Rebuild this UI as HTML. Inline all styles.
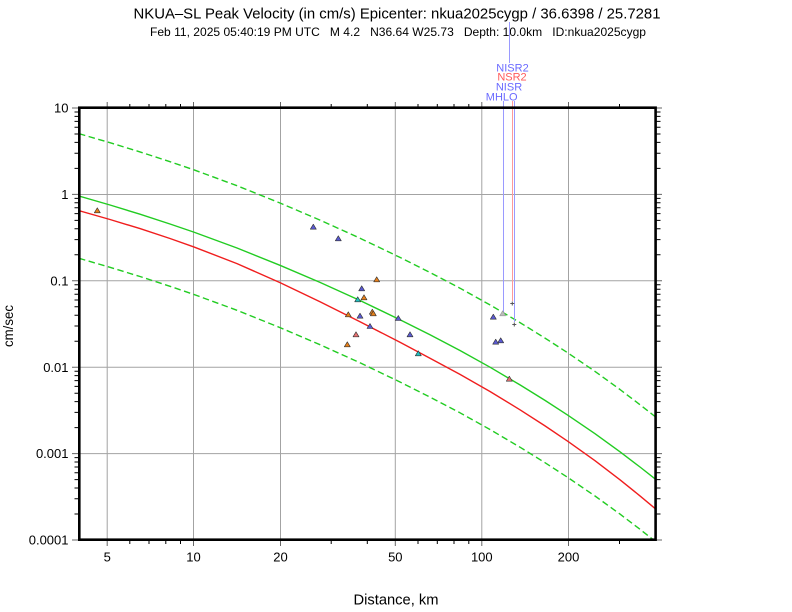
<!DOCTYPE html>
<html><head><meta charset="utf-8"><style>
html,body{margin:0;padding:0;background:#fff;}
svg{display:block;}
text{font-family:"Liberation Sans",Arial,Helvetica,sans-serif;}
</style></head><body>
<svg width="792" height="612" viewBox="0 0 792 612" xmlns="http://www.w3.org/2000/svg">
<rect x="0" y="0" width="792" height="612" fill="#fff"/>
<defs><clipPath id="pc"><rect x="79.3" y="107.7" width="576.3" height="432"/></clipPath></defs>

<!-- titles -->
<text x="397" y="18.5" font-size="14.5" text-anchor="middle" textLength="527" lengthAdjust="spacingAndGlyphs">NKUA–SL Peak Velocity (in cm/s) Epicenter: nkua2025cygp / 36.6398 / 25.7281</text>
<text x="398" y="36" font-size="12" text-anchor="middle" textLength="496" lengthAdjust="spacingAndGlyphs" xml:space="preserve">Feb 11, 2025 05:40:19 PM UTC   M 4.2   N36.64 W25.73   Depth: 10.0km   ID:nkua2025cygp</text>

<!-- grid -->
<g stroke="#a3a3a3" stroke-width="1" fill="none">
<path d="M79 194.5H656M79 280.8H656M79 367.2H656M79 453.6H656"/>
<path d="M107.2 108V540M193.5 108V540M280.5 108V540M395.3 108V540M481.8 108V540M568.5 108V540"/>
</g>

<!-- ticks -->
<g stroke="#000" stroke-width="1" fill="none">
<path d="M74.5 168.4H79M74.5 153.2H79M74.5 142.4H79M74.5 134H79M74.5 127.2H79M74.5 121.4H79M74.5 116.4H79M74.5 112H79
M74.5 254.8H79M74.5 239.6H79M74.5 228.8H79M74.5 220.4H79M74.5 213.6H79M74.5 207.8H79M74.5 202.8H79M74.5 198.4H79
M74.5 341.2H79M74.5 326H79M74.5 315.2H79M74.5 306.8H79M74.5 300H79M74.5 294.2H79M74.5 289.2H79M74.5 284.8H79
M74.5 427.6H79M74.5 412.4H79M74.5 401.6H79M74.5 393.2H79M74.5 386.4H79M74.5 380.6H79M74.5 375.6H79M74.5 371.2H79
M74.5 514H79M74.5 498.8H79M74.5 488H79M74.5 479.6H79M74.5 472.8H79M74.5 467H79M74.5 462H79M74.5 457.6H79"/>
<path d="M656 168.4H660.5M656 153.2H660.5M656 142.4H660.5M656 134H660.5M656 127.2H660.5M656 121.4H660.5M656 116.4H660.5M656 112H660.5
M656 254.8H660.5M656 239.6H660.5M656 228.8H660.5M656 220.4H660.5M656 213.6H660.5M656 207.8H660.5M656 202.8H660.5M656 198.4H660.5
M656 341.2H660.5M656 326H660.5M656 315.2H660.5M656 306.8H660.5M656 300H660.5M656 294.2H660.5M656 289.2H660.5M656 284.8H660.5
M656 427.6H660.5M656 412.4H660.5M656 401.6H660.5M656 393.2H660.5M656 386.4H660.5M656 380.6H660.5M656 375.6H660.5M656 371.2H660.5
M656 514H660.5M656 498.8H660.5M656 488H660.5M656 479.6H660.5M656 472.8H660.5M656 467H660.5M656 462H660.5M656 457.6H660.5"/>
<path d="M129.8 540V544M149 540V544M165.8 540V544M180.5 540V544M331.2 540V544M367.3 540V544M418 540V544M437.3 540V544M454 540V544M468.8 540V544M619.5 540V544
M129.8 108V104M149 108V104M165.8 108V104M180.5 108V104M331.2 108V104M367.3 108V104M418 108V104M437.3 108V104M454 108V104M468.8 108V104M619.5 108V104"/>
</g>
<g stroke="#666" stroke-width="1" fill="none">
<path d="M72 108H79M72 194.4H79M72 280.8H79M72 367.2H79M72 453.6H79M72 540H79"/>
<path d="M656 108H662M656 194.4H662M656 280.8H662M656 367.2H662M656 453.6H662M656 540H662"/>
<path d="M107.2 540V546M193.5 540V546M280.5 540V546M395.3 540V546M481.8 540V546M568.5 540V546"/>
<path d="M107.2 108V102M193.5 108V102M280.5 108V102M395.3 108V102M481.8 108V102M568.5 108V102"/>
</g>

<!-- curves -->
<g clip-path="url(#pc)" fill="none" stroke-width="1.4" stroke-linejoin="round">
<polyline stroke="#22cc22" stroke-dasharray="6.5 3.5" points="79,133.7 110,142.7 140,151.9 170,161.7 193.5,169.7 237,185.7 280,203 320,220.1 360,238.2 400,257.4 430,272.5 460,288.2 490,304.9 520,322.6 545,338.1 568,353 595,371.4 620,389.5 640,404.7 655,416.5"/>
<polyline stroke="#22cc22" stroke-dasharray="6.5 3.5" points="79,258.3 110,267.3 140,276.5 170,286.3 193.5,294.3 237,310.3 280,327.6 320,344.7 360,362.8 400,382 430,397.1 460,412.8 490,429.5 520,447.2 545,462.7 568,477.6 595,496 620,514.1 640,529.3 655,541.1"/>
<polyline stroke="#22cc22" points="79,196 110,205 140,214.2 170,224 193.5,232 237,248 280,265.3 320,282.4 360,300.5 400,319.7 430,334.8 460,350.5 490,367.2 520,384.9 545,400.4 568,415.3 595,433.7 620,451.8 640,467 655,478.8"/>
<polyline stroke="#f01e1e" points="79,210.7 110,219.5 140,228.6 170,238.5 193.5,246.8 237,263.6 280,282.6 320,301.8 360,321.7 400,342.3 430,358.2 460,374.4 490,391.5 520,409.8 545,425.9 568,441.4 595,460.7 620,479.8 640,495.9 655,508.4"/>
</g>

<!-- station label lines -->
<g fill="none" stroke-width="1">
<path d="M509.5 22V63" stroke="#9a9aff"/>
<path d="M503.5 101V312" stroke="#9a9aff"/>
<path d="M514.5 101V322" stroke="#9a9aff"/>
<path d="M512.5 101V301" stroke="#ff9a9a"/>
</g>
<g font-size="11" text-anchor="middle">
<text x="512.5" y="71.3" fill="#6a6aff">NISR2</text>
<text x="512" y="80.7" fill="#ff5a5a">NSR2</text>
<text x="509" y="90.7" fill="#6a6aff">NISR</text>
<text x="501.7" y="100.7" fill="#6a6aff">MHLO</text>
</g>
<g stroke="#555" stroke-width="1" fill="none">
<path d="M510.3 303.5H514.3M512.3 301.5V305.5"/>
<path d="M512.3 324.5H516.3M514.3 322.5V326.5"/>
</g>

<!-- data triangles -->
<g stroke="#333" stroke-width="0.6" stroke-linejoin="round">
<g fill="#e8801a">
<polygon points="94.3,212.8 100.3,212.8 97.3,207.8"/>
<polygon points="373.7,281.8 379.7,281.8 376.7,276.8"/>
<polygon points="361,299.8 367,299.8 364,294.8"/>
<polygon points="369.3,314.2 375.3,314.2 372.3,309.2"/>
<polygon points="370.3,315.8 376.3,315.8 373.3,310.8"/>
<polygon points="345.3,316.8 351.3,316.8 348.3,311.8"/>
<polygon points="344.3,346.8 350.3,346.8 347.3,341.8"/>
</g>
<g fill="#5a5ad2">
<polygon points="310.3,229.2 316.3,229.2 313.3,224.2"/>
<polygon points="335.3,240.8 341.3,240.8 338.3,235.8"/>
<polygon points="358.7,290.8 364.7,290.8 361.7,285.8"/>
<polygon points="357,318.2 363,318.2 360,313.2"/>
<polygon points="395.3,320.5 401.3,320.5 398.3,315.5"/>
<polygon points="367,328.5 373,328.5 370,323.5"/>
<polygon points="407,336.8 413,336.8 410,331.8"/>
<polygon points="490.3,319.2 496.3,319.2 493.3,314.2"/>
<polygon points="492.7,344.2 498.7,344.2 495.7,339.2"/>
<polygon points="497.7,342.8 503.7,342.8 500.7,337.8"/>
</g>
<g fill="#22c0c0">
<polygon points="354.7,301.8 360.7,301.8 357.7,296.8"/>
<polygon points="415.3,355.8 421.3,355.8 418.3,350.8"/>
</g>
<g fill="#e87070">
<polygon points="353,336.8 359,336.8 356,331.8"/>
<polygon points="506.3,381.2 512.3,381.2 509.3,376.2"/>
</g>
<polygon points="499.7,315.8 505.7,315.8 502.7,310.8" fill="#bbb" stroke="#999"/>
</g>

<!-- frame -->
<rect x="79.3" y="107.7" width="576.3" height="432" fill="none" stroke="#000" stroke-width="2.6"/>

<!-- y labels -->
<g font-size="13" text-anchor="end">
<text x="68.5" y="112.6">10</text>
<text x="68.5" y="199">1</text>
<text x="68.5" y="285.4">0.1</text>
<text x="68.5" y="371.8">0.01</text>
<text x="68.5" y="458.2">0.001</text>
<text x="68.5" y="544.6">0.0001</text>
</g>
<!-- x labels -->
<g font-size="13" text-anchor="middle">
<text x="107.2" y="561.5">5</text>
<text x="193.5" y="561.5">10</text>
<text x="280.5" y="561.5">20</text>
<text x="395.3" y="561.5">50</text>
<text x="481.8" y="561.5">100</text>
<text x="568.5" y="561.5">200</text>
</g>
<text x="396" y="604.5" font-size="14.5" text-anchor="middle" textLength="85" lengthAdjust="spacingAndGlyphs">Distance, km</text>
<text transform="translate(13,326) rotate(-90)" font-size="14" text-anchor="middle" textLength="42" lengthAdjust="spacingAndGlyphs">cm/sec</text>
</svg>
</body></html>
